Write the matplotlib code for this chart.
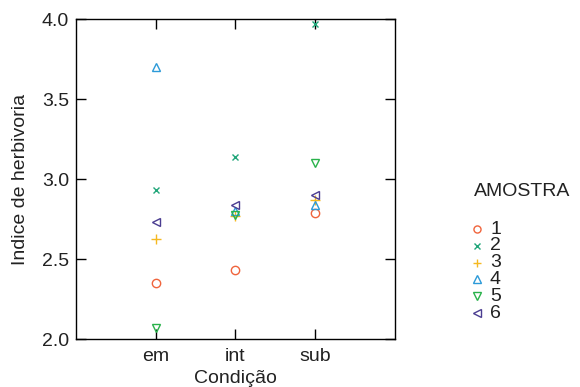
import matplotlib
matplotlib.use("Agg")
import matplotlib.pyplot as plt
from matplotlib.lines import Line2D

plt.rcParams['font.family'] = ['Liberation Sans', 'DejaVu Sans']

categories = ["em", "int", "sub"]
amostras = ["1", "2", "3", "4", "5", "6"]
values = {
    "1": [2.35, 2.43, 2.79],
    "2": [2.93, 3.14, 3.97],
    "3": [2.63, 2.77, 2.87],
    "4": [3.70, 2.80, 2.84],
    "5": [2.07, 2.78, 3.10],
    "6": [2.73, 2.84, 2.90],
}
markers = {"1": "o", "2": "x", "3": "+", "4": "^", "5": "v", "6": "<"}
colors = {"1": "#F0643C", "2": "#21A67A", "3": "#F5B921",
          "4": "#2C9AD8", "5": "#29B24B", "6": "#4B3D91"}
sizes = {"1": 6, "2": 5, "3": 7, "4": 6, "5": 6, "6": 6}
yticks = [2.0, 2.5, 3.0, 3.5, 4.0]
FS = 14
TXT = "#222222"

W, H = 580, 387
fig = plt.figure(figsize=(W/100, H/100), dpi=100)
ax = fig.add_axes([76/W, 1-339.3/H, (394.7-76)/W, (339.3-19.3)/H])


def style_kwargs(a, scale=1.0):
    m = markers[a]
    kw = dict(linestyle="none", marker=m, markersize=sizes[a]*scale, markeredgewidth=1.0)
    if m in ("x", "+"):
        kw.update(color=colors[a])
    else:
        kw.update(markerfacecolor="none", markeredgecolor=colors[a])
    return kw


xpos = list(range(1, len(categories)+1))
for a in amostras:
    ax.plot(xpos, values[a], label=a, **style_kwargs(a))

ax.set_xlim(0, 4)
ax.set_ylim(2.0, 4.0)
ax.set_xticks(xpos)
ax.set_xticklabels(categories)
ax.set_yticks(yticks)
ax.set_yticklabels([f"{v:.1f}" for v in yticks])
ax.tick_params(direction="in", length=7, width=1, labelsize=FS, color="black",
               top=True, right=True, pad=5, labelcolor=TXT)
ax.tick_params(axis="x", pad=6)
for s in ax.spines.values():
    s.set_linewidth(1.0)
ax.set_xlabel("Condição", fontsize=FS, labelpad=4, color=TXT)
ax.set_ylabel("Indice de herbivoria", fontsize=FS, labelpad=9, color=TXT)

# manual legend (figure pixel coordinates)
fig.text(474/W, 1-192/H, "AMOSTRA", fontsize=FS, color=TXT, ha="left", va="center")
y0, dy = 229, 16.8
for i, a in enumerate(amostras):
    yy = 1-(y0 + i*dy)/H
    fig.add_artist(Line2D([477/W], [yy], transform=fig.transFigure, **style_kwargs(a, 0.85)))
    fig.text(490/W, yy, a, fontsize=FS, color=TXT, ha="left", va="center")

fig.savefig("out.png", dpi=100)
